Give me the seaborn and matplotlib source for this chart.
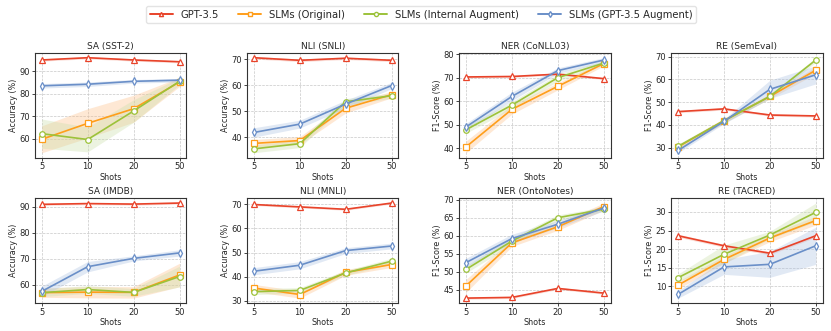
import numpy as np
import matplotlib
matplotlib.use("Agg")
import matplotlib.pyplot as plt
import seaborn as sns
from matplotlib.lines import Line2D

shots = ["5", "10", "20", "50"]
methods = ["GPT-3.5", "SLMs (Original)", "SLMs (Internal Augment)", "SLMs (GPT-3.5 Augment)"]

# mean scores per task (order follows `methods`)
sst2 = [[95.0, 96.0, 95.0, 94.2], [59.7, 66.8, 73.3, 85.2], [62.2, 59.6, 72.3, 85.5], [83.5, 84.2, 85.5, 86.0]]
snli = [[70.5, 69.5, 70.3, 69.5], [37.6, 38.7, 51.1, 56.3], [35.5, 37.5, 53.6, 55.9], [41.8, 45.0, 52.7, 59.8]]
conll = [[70.3, 70.5, 71.5, 69.6], [40.5, 56.5, 66.3, 76.0], [47.8, 58.3, 70.0, 76.2], [49.0, 62.0, 73.0, 77.5]]
semeval = [[45.8, 47.0, 44.3, 43.9], [30.3, 41.8, 52.5, 64.0], [30.5, 41.8, 52.5, 68.5], [28.7, 41.5, 55.6, 62.0]]
imdb = [[91.0, 91.3, 91.1, 91.5], [57.0, 57.2, 57.1, 63.8], [57.0, 58.2, 57.1, 63.2], [57.5, 67.0, 70.2, 72.3]]
mnli = [[70.0, 69.0, 68.0, 70.6], [35.2, 32.5, 41.7, 45.0], [33.7, 34.2, 41.5, 46.4], [42.2, 44.7, 50.8, 52.7]]
onto = [[42.6, 42.8, 45.3, 44.0], [46.0, 58.0, 62.5, 68.1], [50.6, 58.5, 65.0, 67.4], [52.5, 59.2, 63.2, 67.7]]
tacred = [[23.6, 20.9, 18.9, 23.6], [10.3, 17.2, 23.0, 27.7], [12.3, 18.6, 23.8, 29.9], [7.8, 15.2, 15.9, 20.9]]

# half-width of the shaded band per point
sst2_sd = [[0.5, 0.5, 0.5, 0.5], [6.0, 6.5, 6.0, 2.0], [6.5, 5.5, 5.0, 1.5], [1.0, 1.0, 0.8, 0.8]]
snli_sd = [[0.5, 0.5, 0.5, 0.5], [1.5, 1.5, 1.8, 1.2], [1.5, 1.5, 1.2, 1.0], [1.8, 1.5, 1.5, 1.2]]
conll_sd = [[0.4, 0.4, 0.4, 0.4], [2.5, 2.0, 1.5, 1.0], [1.5, 1.5, 1.5, 1.0], [1.5, 1.8, 1.2, 1.0]]
semeval_sd = [[0.5, 0.5, 0.5, 0.5], [1.0, 1.0, 1.0, 1.5], [1.0, 1.0, 1.0, 1.0], [1.0, 1.0, 4.0, 4.0]]
imdb_sd = [[0.4, 0.4, 0.4, 0.4], [1.8, 2.2, 2.2, 4.5], [1.5, 1.5, 1.5, 4.0], [2.0, 2.0, 1.0, 1.2]]
mnli_sd = [[0.4, 0.4, 0.4, 0.4], [1.5, 1.5, 1.2, 1.2], [1.2, 1.2, 1.0, 1.2], [1.5, 1.5, 1.2, 1.2]]
onto_sd = [[0.3, 0.3, 0.3, 0.3], [1.8, 1.0, 1.0, 1.0], [1.0, 1.0, 0.8, 0.6], [1.2, 1.2, 1.0, 0.8]]
tacred_sd = [[0.4, 0.4, 0.4, 0.4], [1.0, 1.0, 1.0, 1.2], [1.0, 2.5, 1.0, 2.5], [1.0, 2.0, 3.5, 5.0]]

titles = ["SA (SST-2)", "NLI (SNLI)", "NER (CoNLL03)", "RE (SemEval)",
          "SA (IMDB)", "NLI (MNLI)", "NER (OntoNotes)", "RE (TACRED)"]
ylabels = ["Accuracy (%)", "Accuracy (%)", "F1-Score (%)", "F1-Score (%)",
           "Accuracy (%)", "Accuracy (%)", "F1-Score (%)", "F1-Score (%)"]
all_means = [sst2, snli, conll, semeval, imdb, mnli, onto, tacred]
all_sds = [sst2_sd, snli_sd, conll_sd, semeval_sd, imdb_sd, mnli_sd, onto_sd, tacred_sd]

colors = ["#E8432A", "#FF9E1B", "#9CC23A", "#6A8FC8"]
band_colors = ["#F4A08F", "#FDBE85", "#C9DFA8", "#A9C0E2"]
markers = ["^", "s", "o", "d"]

sns.set_style("whitegrid", {"grid.linestyle": "--", "grid.color": "#c8c8c8",
                            "axes.edgecolor": "#333333"})
plt.rcParams["font.family"] = ["DejaVu Sans"]

fig, axes = plt.subplots(2, 4, figsize=(8.31, 3.31), dpi=100)
fig.subplots_adjust(left=0.042, right=0.99, top=0.84, bottom=0.085, wspace=0.40, hspace=0.39)

xpos = np.arange(len(shots))
for k, ax in enumerate(axes.flat):
    for m in range(len(methods)):
        mean = np.array(all_means[k][m])
        sd = np.array(all_sds[k][m])
        ax.fill_between(xpos, mean - sd, mean + sd, color=band_colors[m], alpha=0.35, linewidth=0)
        sns.lineplot(x=shots, y=mean, ax=ax, color=colors[m], marker=markers[m],
                     markersize=4, markerfacecolor="white", markeredgecolor=colors[m],
                     markeredgewidth=0.9, linewidth=1.2, zorder=3)
    ax.set_title(titles[k], fontsize=6.5, pad=3)
    ax.set_xlabel("Shots", fontsize=5.8, labelpad=1)
    ax.set_ylabel(ylabels[k], fontsize=5.8, labelpad=1)
    ax.tick_params(labelsize=6, length=2, width=0.6, pad=1.5, left=True, bottom=True)
    for s in ax.spines.values():
        s.set_linewidth(0.8)
    ax.grid(linewidth=0.5)

handles = [Line2D([], [], color=colors[m], marker=markers[m], markersize=3,
                  markerfacecolor="white", markeredgecolor=colors[m], linewidth=1.4)
           for m in range(len(methods))]
fig.legend(handles, methods, loc="center", bbox_to_anchor=(0.507, 0.956), ncol=4,
           fontsize=7.2, frameon=True, handlelength=2.3, handletextpad=0.8,
           columnspacing=1.9, borderpad=0.35, edgecolor="#dddddd", fancybox=True)

fig.savefig("out.png", dpi=100)
